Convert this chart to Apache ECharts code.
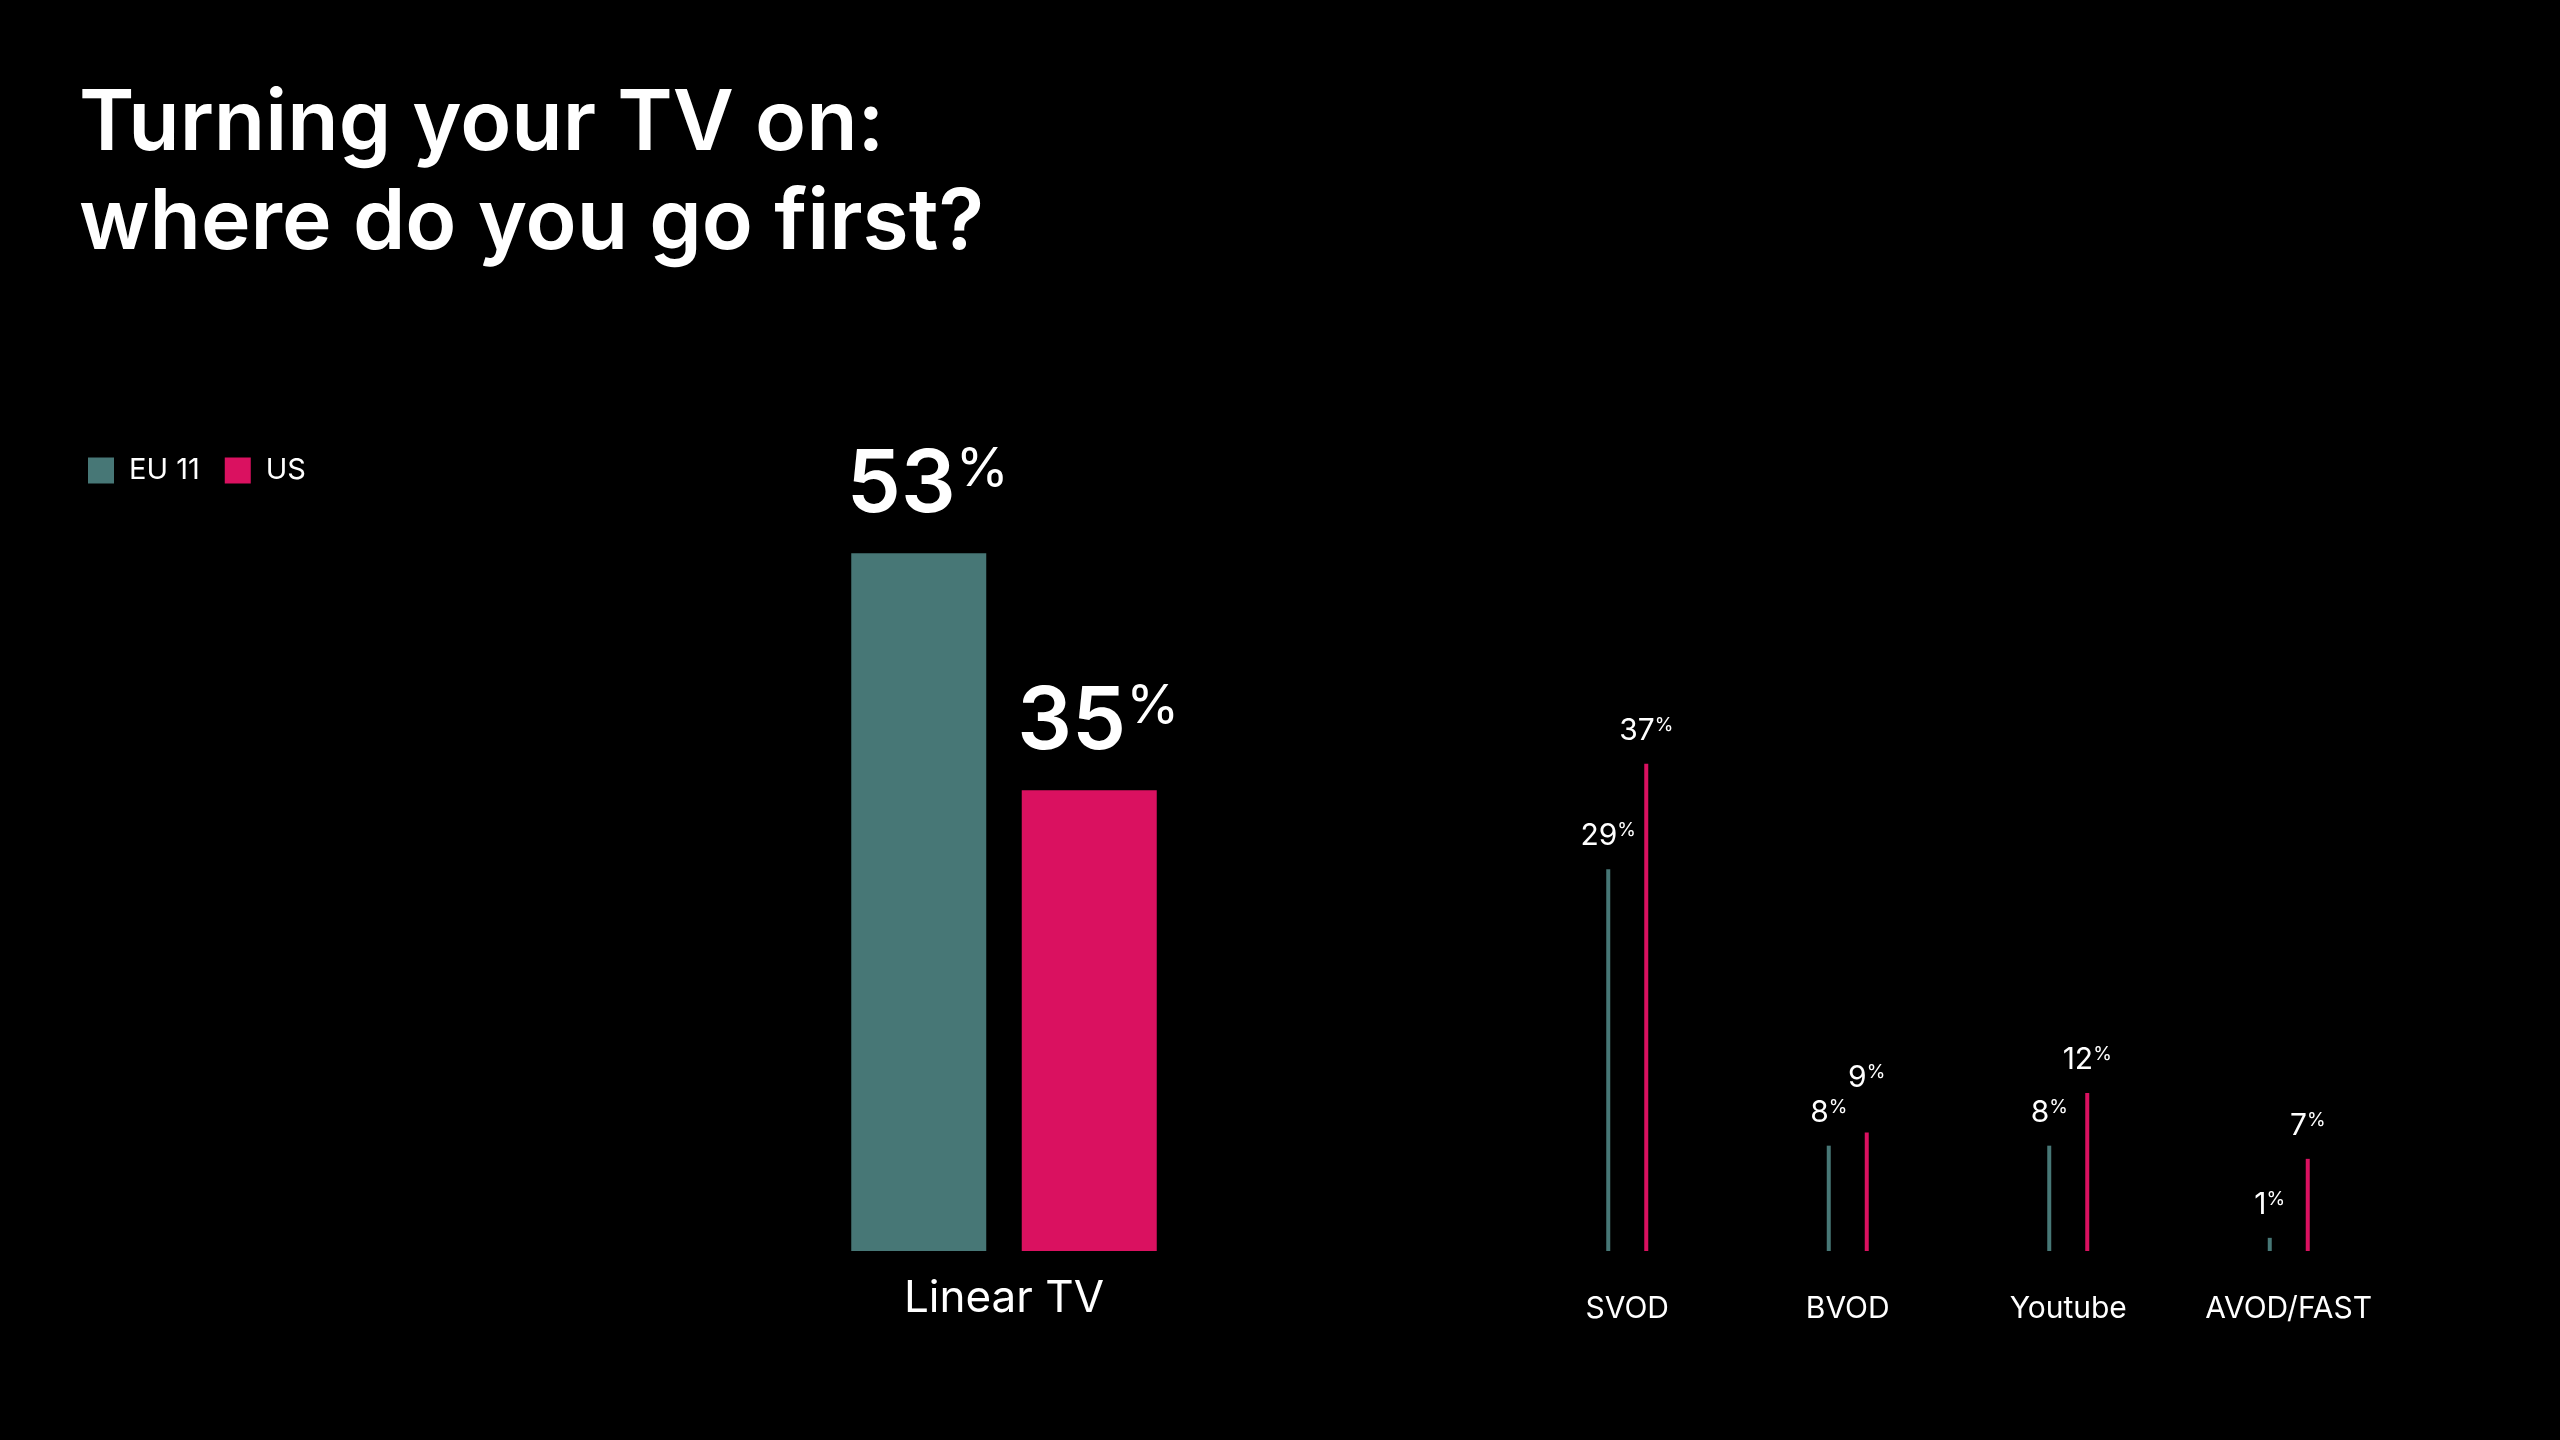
<!DOCTYPE html>
<html>
<head>
<meta charset="utf-8">
<script src="https://cdn.jsdelivr.net/npm/echarts@6/dist/echarts.min.js"></script>
<style>
  html, body { margin: 0; padding: 0; background: #000; }
  #chart { width: 2560px; height: 1440px; }
</style>
</head>
<body>
<div id="chart"></div>
<script>
// categories
const mainCategories = ["Linear TV"];
const otherCategories = ["SVOD", "BVOD", "Youtube", "AVOD/FAST"];
// values (%)
const eu11Main = [53];
const usMain = [35];
const eu11Other = [29, 8, 8, 1];
const usOther = [37, 9, 12, 7];

const teal = "#477776";
const pink = "#da1160";
const font = "Inter";

const chart = echarts.init(document.getElementById("chart"));

// big labels for Linear TV
const bigLabel = {
  show: true,
  position: "top",
  distance: 24,
  offset: [9, 0],
  formatter: (p) => "{num|" + p.value + "}{pct|%}",
  rich: {
    num: { color: "#fff", fontFamily: font, fontWeight: 600, fontSize: 86, lineHeight: 86 },
    pct: { color: "#fff", fontFamily: font, fontWeight: "normal", fontSize: 54, lineHeight: 70, verticalAlign: "top" },
  },
};

// small labels for the other channels
const smallLabel = {
  show: true,
  position: "top",
  distance: 18,
  formatter: (p) => "{num|" + p.value + "}{pct|%}",
  rich: {
    num: { color: "#fff", fontFamily: font, fontWeight: 400, fontSize: 30, lineHeight: 30 },
    pct: { color: "#fff", fontFamily: font, fontWeight: 400, fontSize: 19, lineHeight: 24, verticalAlign: "top" },
  },
};

// BVOD US label sits a bit higher in the original to clear the EU label
const usOtherData = usOther.map((v, i) =>
  otherCategories[i] === "BVOD" ? { value: v, label: { offset: [0, -22] } } : v
);

const option = {
  backgroundColor: "#000",
  animation: false,
  title: {
    text: "Turning your TV on:\nwhere do you go first?",
    left: 74,
    top: 70,
    textStyle: {
      color: "#fff",
      fontFamily: font,
      fontWeight: 600,
      fontSize: 84,
      lineHeight: 99,
    },
  },
  legend: {
    left: 83,
    top: 451,
    itemWidth: 26,
    itemHeight: 26,
    itemGap: 25,
    icon: "rect",
    data: ["EU 11", "US"],
    textStyle: { color: "#fff", fontFamily: font, fontSize: 29, padding: [0, 0, 0, 10] },
  },
  grid: [
    { left: 804, width: 400, top: 461, bottom: 189 },
    { left: 1517, width: 882, top: 461, bottom: 189 },
  ],
  xAxis: [
    {
      type: "category",
      gridIndex: 0,
      data: mainCategories,
      axisLine: { show: false },
      axisTick: { show: false },
      axisLabel: { color: "#fff", fontFamily: font, fontSize: 44, margin: 26, interval: 0 },
    },
    {
      type: "category",
      gridIndex: 1,
      data: otherCategories,
      axisLine: { show: false },
      axisTick: { show: false },
      axisLabel: { color: "#fff", fontFamily: font, fontSize: 30, margin: 43, interval: 0, hideOverlap: false },
    },
  ],
  yAxis: [
    { type: "value", gridIndex: 0, min: 0, max: 60, show: false },
    { type: "value", gridIndex: 1, min: 0, max: 60, show: false },
  ],
  series: [
    {
      name: "EU 11",
      type: "bar",
      xAxisIndex: 0,
      yAxisIndex: 0,
      data: eu11Main,
      barWidth: 135,
      barGap: "26.3%",
      itemStyle: { color: teal },
      label: bigLabel,
    },
    {
      name: "US",
      type: "bar",
      xAxisIndex: 0,
      yAxisIndex: 0,
      data: usMain,
      barWidth: 135,
      barGap: "26.3%",
      itemStyle: { color: pink },
      label: bigLabel,
    },
    {
      name: "EU 11",
      type: "bar",
      xAxisIndex: 1,
      yAxisIndex: 1,
      data: eu11Other,
      barWidth: 4,
      barGap: "850%",
      itemStyle: { color: teal },
      label: smallLabel,
    },
    {
      name: "US",
      type: "bar",
      xAxisIndex: 1,
      yAxisIndex: 1,
      data: usOtherData,
      barWidth: 4,
      barGap: "850%",
      itemStyle: { color: pink },
      label: smallLabel,
    },
  ],
};

chart.setOption(option);
</script>
</body>
</html>
